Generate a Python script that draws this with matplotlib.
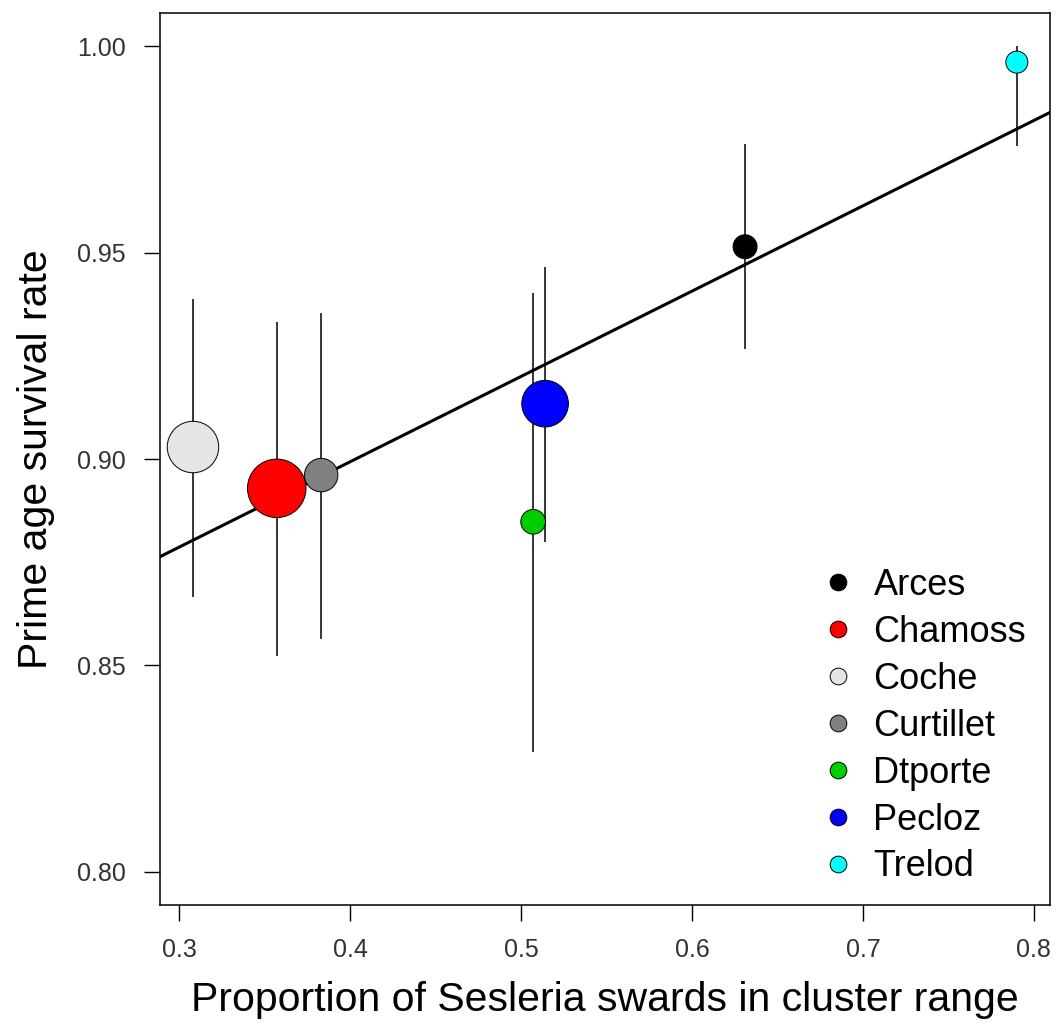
import matplotlib
matplotlib.use("Agg")
import matplotlib.pyplot as plt
from matplotlib.lines import Line2D

plt.rcParams["font.family"] = ["Liberation Sans", "DejaVu Sans"]

# values
sites = ["Arces", "Chamoss", "Coche", "Curtillet", "Dtporte", "Pecloz", "Trelod"]
sesleria = [0.631, 0.357, 0.308, 0.383, 0.507, 0.514, 0.790]
survival = [0.9514, 0.8929, 0.9029, 0.8961, 0.8848, 0.9134, 0.9961]
ci_low = [0.9267, 0.8523, 0.8667, 0.8564, 0.8290, 0.8800, 0.9758]
ci_high = [0.9763, 0.9331, 0.9387, 0.9354, 0.9403, 0.9465, 1.0000]
symbol_cex = [1.09, 2.66, 2.34, 1.52, 1.12, 2.12, 1.00]  # relative point size
fit_intercept = 0.8167
fit_slope = 0.2066

colors = ["black", "#FF0000", "#E5E5E5", "#808080", "#00CD00", "#0000FF", "#00FFFF"]

W, H, DPI = 1056, 1035, 100
fig = plt.figure(figsize=(W / DPI, H / DPI), dpi=DPI)
ax = fig.add_axes([160 / W, 1 - 905 / H, 890 / W, 892 / H])

# regression line
ax.axline((0.0, fit_intercept), slope=fit_slope, color="black", lw=2.2, zorder=2)

# confidence intervals
ax.vlines(sesleria, ci_low, ci_high, color="black", lw=1.1, zorder=1)

# points, radius in px = 11 * cex
base_r = 11 * 0.72
sizes = [(2 * base_r * c) ** 2 for c in symbol_cex]
ax.scatter(sesleria, survival, s=sizes, c=colors, edgecolors="black",
           linewidths=0.7, zorder=3)

ax.set_xlim(0.2887, 0.8094)
ax.set_ylim(0.792, 1.008)
ax.set_xticks([0.3, 0.4, 0.5, 0.6, 0.7, 0.8])
ax.set_xticklabels(["0.3", "0.4", "0.5", "0.6", "0.7", "0.8"])
ax.set_yticks([0.80, 0.85, 0.90, 0.95, 1.00])
ax.set_yticklabels(["0.80", "0.85", "0.90", "0.95", "1.00"])
ax.tick_params(length=11.5, width=1.0, labelsize=18, colors="black",
               labelcolor="#333333")
ax.tick_params(axis="y", pad=13)
ax.tick_params(axis="x", pad=12)
for sp in ax.spines.values():
    sp.set_linewidth(1.1)

ax.set_xlabel("Proportion of Sesleria swards in cluster range", fontsize=29.5,
              labelpad=14)
ax.set_ylabel("Prime age survival rate", fontsize=29.5, labelpad=16)

handles = [Line2D([], [], ls="none", marker="o", markersize=12,
                  markerfacecolor=c, markeredgecolor="black",
                  markeredgewidth=0.7) for c in colors]
ax.legend(handles, sites, loc="upper left", frameon=False, fontsize=26,
          handlelength=0.8, handletextpad=0.57, labelspacing=0.33,
          borderpad=0, borderaxespad=0,
          bbox_to_anchor=(824 / W, 1 - 568 / H), bbox_transform=fig.transFigure)

fig.savefig("out.png", dpi=DPI)
